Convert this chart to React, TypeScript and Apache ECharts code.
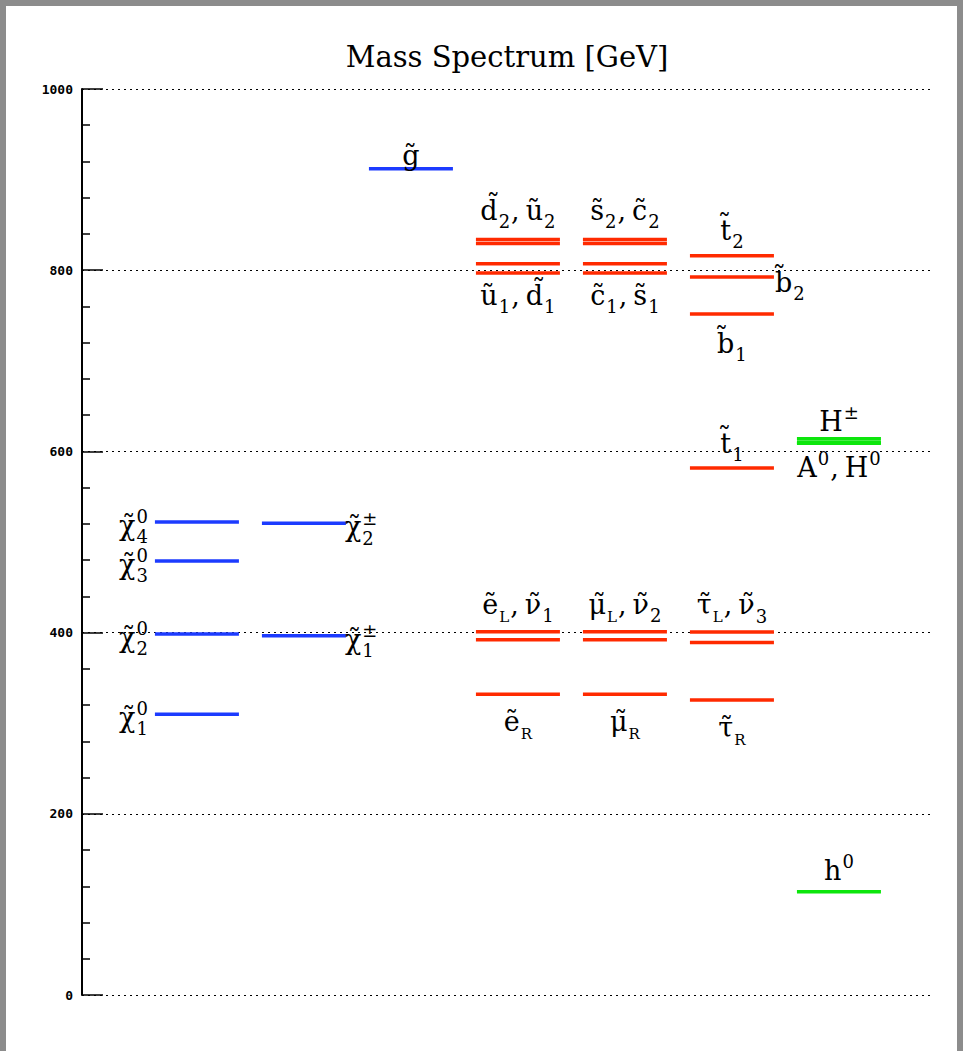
import React, { useEffect, useRef } from "react";
import * as echarts from "echarts";

// ---------------- data ----------------
const TITLE = "Mass Spectrum [GeV]";
const Y_MIN = 0;
const Y_MAX = 1000;
const Y_STEP = 200;

// column index of each particle family on the x axis
const COL_NEUTRALINO = 0;
const COL_CHARGINO = 1;
const COL_GLUINO = 2;
const COL_GEN1 = 3;
const COL_GEN2 = 4;
const COL_GEN3 = 5;
const COL_HIGGS = 6;

const neutralinoMasses = [310, 398.5, 479, 522]; // χ1..χ4
const charginoMasses = [396.6, 520.6]; // χ±1, χ±2
const gluinoMasses = [912];
const squarkGen1Masses = [834, 829.5, 807, 797]; // d2, u2, u1, d1
const squarkGen2Masses = [834, 829.5, 807, 797]; // s2, c2, c1, s1
const squarkGen3Masses = [816, 792.5, 751.6, 581.7]; // t2, b2, b1, t1
const sleptonGen1Masses = [401, 392, 332]; // eL, ν1, eR
const sleptonGen2Masses = [401, 392, 332]; // μL, ν2, μR
const sleptonGen3Masses = [400.6, 389, 325.6]; // τL, ν3, τR
const higgsMasses = [614, 610, 609, 114]; // H±, H0, A0, h0

const COLORS = ["#1c3bff", "#ff2a00", "#0ce60c"];

const groups = [
  { col: COL_NEUTRALINO, masses: neutralinoMasses, color: 0 },
  { col: COL_CHARGINO, masses: charginoMasses, color: 0 },
  { col: COL_GLUINO, masses: gluinoMasses, color: 0 },
  { col: COL_GEN1, masses: squarkGen1Masses, color: 1 },
  { col: COL_GEN2, masses: squarkGen2Masses, color: 1 },
  { col: COL_GEN3, masses: squarkGen3Masses, color: 1 },
  { col: COL_GEN1, masses: sleptonGen1Masses, color: 1 },
  { col: COL_GEN2, masses: sleptonGen2Masses, color: 1 },
  { col: COL_GEN3, masses: sleptonGen3Masses, color: 1 },
  { col: COL_HIGGS, masses: higgsMasses, color: 2 },
];

const T = "\u0303"; // combining tilde
type Tok = { m: string; sup?: string; sub?: string; small?: boolean; pad?: number };
type LabelSpec = { col: number; mass: number; place: string; gap: number; dx?: number; dy?: number; toks: Tok[] };

const COMMA: Tok = { m: ",", pad: 5 };

const labels: LabelSpec[] = [
  { col: COL_NEUTRALINO, mass: neutralinoMasses[0], place: "left", gap: 7, dy: 3, toks: [{ m: "χ" + T, sup: "0", sub: "1" }] },
  { col: COL_NEUTRALINO, mass: neutralinoMasses[1], place: "left", gap: 7, dy: 3, toks: [{ m: "χ" + T, sup: "0", sub: "2" }] },
  { col: COL_NEUTRALINO, mass: neutralinoMasses[2], place: "left", gap: 7, dy: 3, toks: [{ m: "χ" + T, sup: "0", sub: "3" }] },
  { col: COL_NEUTRALINO, mass: neutralinoMasses[3], place: "left", gap: 7, dy: 3, toks: [{ m: "χ" + T, sup: "0", sub: "4" }] },
  { col: COL_CHARGINO, mass: charginoMasses[0], place: "right", gap: -1, dy: 3, toks: [{ m: "χ" + T, sup: "±", sub: "1" }] },
  { col: COL_CHARGINO, mass: charginoMasses[1], place: "right", gap: -1, dy: 3, toks: [{ m: "χ" + T, sup: "±", sub: "2" }] },
  { col: COL_GLUINO, mass: gluinoMasses[0], place: "above", gap: 2, toks: [{ m: "g" + T }] },
  { col: COL_GEN1, mass: squarkGen1Masses[0], place: "above", gap: 10, toks: [{ m: "d" + T, sub: "2" }, COMMA, { m: "u" + T, sub: "2" }] },
  { col: COL_GEN1, mass: squarkGen1Masses[3], place: "below", gap: 8, toks: [{ m: "u" + T, sub: "1" }, COMMA, { m: "d" + T, sub: "1" }] },
  { col: COL_GEN2, mass: squarkGen2Masses[0], place: "above", gap: 10, toks: [{ m: "s" + T, sub: "2" }, COMMA, { m: "c" + T, sub: "2" }] },
  { col: COL_GEN2, mass: squarkGen2Masses[3], place: "below", gap: 8, toks: [{ m: "c" + T, sub: "1" }, COMMA, { m: "s" + T, sub: "1" }] },
  { col: COL_GEN3, mass: squarkGen3Masses[0], place: "above", gap: 6, toks: [{ m: "t" + T, sub: "2" }] },
  { col: COL_GEN3, mass: squarkGen3Masses[1], place: "right", gap: 1, dy: 5, toks: [{ m: "b" + T, sub: "2" }] },
  { col: COL_GEN3, mass: squarkGen3Masses[2], place: "below", gap: 15, toks: [{ m: "b" + T, sub: "1" }] },
  { col: COL_GEN3, mass: squarkGen3Masses[3], place: "above", gap: 5, toks: [{ m: "t" + T, sub: "1" }] },
  { col: COL_GEN1, mass: sleptonGen1Masses[0], place: "above", gap: 8, toks: [{ m: "e" + T, sub: "L", small: true }, COMMA, { m: "ν" + T, sub: "1" }] },
  { col: COL_GEN1, mass: sleptonGen1Masses[2], place: "below", gap: 13, toks: [{ m: "e" + T, sub: "R", small: true }] },
  { col: COL_GEN2, mass: sleptonGen2Masses[0], place: "above", gap: 8, toks: [{ m: "μ" + T, sub: "L", small: true }, COMMA, { m: "ν" + T, sub: "2" }] },
  { col: COL_GEN2, mass: sleptonGen2Masses[2], place: "below", gap: 13, toks: [{ m: "μ" + T, sub: "R", small: true }] },
  { col: COL_GEN3, mass: sleptonGen3Masses[0], place: "above", gap: 8, toks: [{ m: "τ" + T, sub: "L", small: true }, COMMA, { m: "ν" + T, sub: "3" }] },
  { col: COL_GEN3, mass: sleptonGen3Masses[2], place: "below", gap: 13, toks: [{ m: "τ" + T, sub: "R", small: true }] },
  { col: COL_HIGGS, mass: higgsMasses[0], place: "above", gap: 6, toks: [{ m: "H", sup: "±" }] },
  { col: COL_HIGGS, mass: higgsMasses[2], place: "below", gap: 7, toks: [{ m: "A", sup: "0" }, COMMA, { m: "H", sup: "0" }] },
  { col: COL_HIGGS, mass: higgsMasses[3], place: "above", gap: 10, toks: [{ m: "h", sup: "0" }] },
];

// ---------------- styling ----------------
const LABEL_FONT = '"DejaVu Serif", serif';
const F = 27; // main glyph size
const S = 18; // sup/sub size
const S_SMALL = 15;
const HALF = 0.3925; // half length of a level, in column units
const LEVEL_WIDTH = 3.5;

let measureCtx: CanvasRenderingContext2D | null = null;
function tw(s: string, size: number): number {
  if (!measureCtx) measureCtx = document.createElement("canvas").getContext("2d");
  if (!measureCtx) return s.length * size * 0.6;
  measureCtx.font = `${size}px ${LABEL_FONT}`;
  return measureCtx.measureText(s).width;
}

function buildLabel(spec: LabelSpec, x1: number, x2: number, ly: number) {
  const parts: { text: string; x: number; base: number; size: number }[] = [];
  let x = 0;
  let hasSup = false;
  let hasSub = false;
  const SUP_B = -12;
  const SUB_B = 8;
  for (const t of spec.toks) {
    const wm = tw(t.m, F);
    parts.push({ text: t.m, x, base: 0, size: F });
    let w2 = 0;
    const ss = t.small ? S_SMALL : S;
    if (t.sup) {
      hasSup = true;
      parts.push({ text: t.sup, x: x + wm + 1, base: SUP_B, size: S });
      w2 = Math.max(w2, tw(t.sup, S) + 1);
    }
    if (t.sub) {
      hasSub = true;
      parts.push({ text: t.sub, x: x + wm + 1, base: SUB_B, size: ss });
      w2 = Math.max(w2, tw(t.sub, ss) + 1);
    }
    x += wm + w2 + (t.pad || 0) + 1;
  }
  const width = x - 1;
  const top = hasSup ? -25 : -22;
  const bottom = hasSub ? SUB_B : 0;
  const cx = (x1 + x2) / 2;
  const hl = LEVEL_WIDTH / 2;
  let ox = cx - width / 2;
  let base = ly;
  if (spec.place === "above") {
    base = ly - hl - spec.gap - bottom;
  } else if (spec.place === "below") {
    base = ly + hl + spec.gap - top;
  } else if (spec.place === "left") {
    ox = x1 - spec.gap - width;
    base = ly + 10;
  } else {
    ox = x2 + spec.gap;
    base = ly + 10;
  }
  ox += spec.dx || 0;
  base += spec.dy || 0;
  return parts.map((p) => ({
    type: "text",
    x: ox + p.x,
    y: base + p.base - p.size * 0.35,
    style: {
      text: p.text,
      font: `${p.size}px ${LABEL_FONT}`,
      fill: "#000",
      align: "left",
      verticalAlign: "middle",
    },
  }));
}

export default function App() {
  const ref = useRef<HTMLDivElement>(null);
  useEffect(() => {
    if (!ref.current) return;
    const chart = echarts.init(ref.current, null, { renderer: "svg" });

    const levelData: number[][] = [];
    groups.forEach((g) => g.masses.forEach((m) => levelData.push([g.col, m, g.color])));
    const labelData: number[][] = labels.map((l, i) => [l.col, l.mass, i]);

    chart.setOption({
      animation: false,
      backgroundColor: "#ffffff",
      graphic: [
        {
          type: "text",
          x: 501,
          y: 51,
          style: {
            text: TITLE,
            font: `29px ${LABEL_FONT}`,
            fill: "#000",
            align: "center",
            verticalAlign: "middle",
          },
        },
      ],
      grid: { left: 76, top: 83, width: 848, height: 906, containLabel: false },
      xAxis: {
        type: "value",
        min: -1.074,
        max: 6.851,
        show: false,
      },
      yAxis: {
        type: "value",
        min: Y_MIN,
        max: Y_MAX,
        interval: Y_STEP,
        axisLine: { show: true, onZero: false, lineStyle: { color: "#000", width: 2 } },
        axisTick: { show: true, inside: true, length: 21, lineStyle: { color: "#000", width: 1.5 } },
        minorTick: { show: true, splitNumber: 5, length: 8, lineStyle: { color: "#000", width: 1.5 } },
        splitLine: { show: true, lineStyle: { color: "#000", width: 1.2, type: [2, 4] } },
        axisLabel: {
          color: "#000",
          fontFamily: '"DejaVu Sans Mono", monospace',
          fontWeight: "bold",
          fontSize: 13,
          margin: 9,
          formatter: (v: number) => String(v),
        },
      },
      series: [
        {
          type: "custom",
          name: "levels",
          data: levelData,
          renderItem: (params: any, api: any) => {
            const c = api.value(0);
            const m = api.value(1);
            const ci = api.value(2);
            const p1 = api.coord([c - HALF, m]);
            const p2 = api.coord([c + HALF, m]);
            return {
              type: "line",
              shape: { x1: p1[0], y1: p1[1], x2: p2[0], y2: p2[1] },
              style: { stroke: COLORS[ci], lineWidth: LEVEL_WIDTH },
            };
          },
        },
        {
          type: "custom",
          name: "labels",
          data: labelData,
          renderItem: (params: any, api: any) => {
            const c = api.value(0);
            const m = api.value(1);
            const idx = api.value(2);
            const p1 = api.coord([c - HALF, m]);
            const p2 = api.coord([c + HALF, m]);
            return { type: "group", children: buildLabel(labels[idx], p1[0], p2[0], p1[1]) };
          },
        },
      ],
    });
    return () => chart.dispose();
  }, []);

  return (
    <div style={{ position: "absolute", left: 0, top: 0, width: 963, height: 1051, background: "#8c8c8c" }}>
      <div ref={ref} style={{ position: "absolute", left: 6, top: 6, width: 951, height: 1045, background: "#fff" }} />
    </div>
  );
}
